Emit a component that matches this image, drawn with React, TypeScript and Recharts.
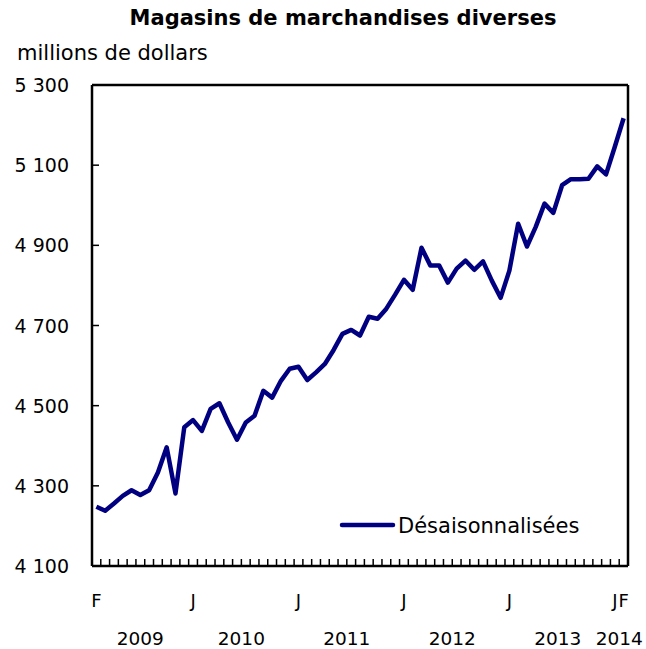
import { CartesianGrid, Legend, Line, LineChart, ReferenceLine, XAxis, YAxis } from "recharts";

const FONT = "'DejaVu Sans', Verdana, sans-serif";
const NAVY = "#000080";

// Feb 2009 .. Feb 2014, monthly, millions of dollars
const values = [
  4248, 4238, 4256, 4275, 4289, 4277, 4289, 4333, 4396, 4281, 4446,
  4464, 4437, 4492, 4506, 4458, 4415, 4458, 4475, 4537, 4520, 4562, 4592,
  4597, 4564, 4583, 4604, 4639, 4679, 4689, 4675, 4722, 4717, 4742, 4777,
  4814, 4789, 4894, 4850, 4850, 4807, 4842, 4862, 4839, 4860, 4812, 4769,
  4837, 4954, 4897, 4946, 5004, 4981, 5050, 5065, 5065, 5066, 5097, 5077,
  5146, 5217
];

const monthTicks = [0, 11, 23, 35, 47, 59, 60];
const monthLabels = ["F", "J", "J", "J", "J", "J", "F"];

const yearTicks = [5, 16.5, 28.5, 40.5, 52.5, 59.5];
const yearLabels = ["2009", "2010", "2011", "2012", "2013", "2014"];

const yTicks = [4100, 4300, 4500, 4700, 4900, 5100, 5300];
const yLabels = ["4 100", "4 300", "4 500", "4 700", "4 900", "5 100", "5 300"];

const data = values.map((v, i) => ({ idx: i, value: v }));
// small tick marks sit between months
const boundaries = values.slice(1).map((_, i) => i + 0.5);
const xTicks = [...boundaries, ...monthTicks].sort((a, b) => a - b);

function MonthTick({ x, y, payload }: any) {
  const v = payload.value;
  if (!Number.isInteger(v)) {
    return <line x1={x} x2={x} y1={y} y2={y - 7} stroke="#000" strokeWidth={1.5} />;
  }
  const label = monthLabels[monthTicks.indexOf(v)];
  return (
    <text x={x} y={y + 41} textAnchor="middle" fontFamily={FONT} fontSize={18} fill="#000">
      {label}
    </text>
  );
}

function YearTick({ x, y, payload }: any) {
  const label = yearLabels[yearTicks.indexOf(payload.value)];
  return (
    <text x={x} y={y + 49} textAnchor="middle" fontFamily={FONT} fontSize={18.5} fill="#000">
      {label}
    </text>
  );
}

function ValueTick({ x, y, payload }: any) {
  const label = yLabels[yTicks.indexOf(payload.value)];
  return (
    <g>
      <line x1={x} x2={x + 7} y1={y} y2={y} stroke="#000" strokeWidth={1.5} />
      <text x={x - 23} y={y + 7} textAnchor="end" fontFamily={FONT} fontSize={19} fill="#000">
        {label}
      </text>
    </g>
  );
}

function LegendContent() {
  return (
    <svg width={260} height={32}>
      <line x1={3} x2={54} y1={15} y2={15} stroke={NAVY} strokeWidth={4.5} strokeLinecap="round" />
      <text x={59} y={23} fontFamily={FONT} fontSize={21} fill="#000">
        Désaisonnalisées
      </text>
    </svg>
  );
}

export default function App() {
  return (
    <div style={{ position: "absolute", left: 0, top: 0, width: 646, height: 649, background: "#fff" }}>
      <LineChart width={646} height={649} data={data} margin={{ top: 85, right: 18, bottom: 0, left: 0 }}>
        <CartesianGrid stroke="none" />
        <XAxis
          dataKey="idx"
          type="number"
          domain={[-0.5, 60.5]}
          ticks={xTicks}
          interval={0}
          tick={<MonthTick />}
          tickLine={false}
          tickSize={0}
          tickMargin={0}
          height={30}
          axisLine={{ stroke: "#000", strokeWidth: 2.5 }}
        />
        <XAxis
          xAxisId="yr"
          dataKey="idx"
          type="number"
          domain={[-0.5, 60.5]}
          ticks={yearTicks}
          interval={0}
          tick={<YearTick />}
          tickLine={false}
          tickSize={0}
          tickMargin={0}
          height={53}
          axisLine={false}
        />
        <YAxis
          domain={[4100, 5300]}
          ticks={yTicks}
          interval={0}
          width={92}
          tick={<ValueTick />}
          tickLine={false}
          tickSize={0}
          tickMargin={0}
          axisLine={{ stroke: "#000", strokeWidth: 2.5 }}
        />
        <ReferenceLine y={5300} stroke="#000" strokeWidth={2.5} />
        <ReferenceLine x={60.5} stroke="#000" strokeWidth={2.5} />
        <Legend
          layout="horizontal"
          verticalAlign="middle"
          align="center"
          content={<LegendContent />}
          wrapperStyle={{ position: "absolute", left: 339, top: 510, width: 260, height: 32 }}
        />
        <Line
          type="linear"
          dataKey="value"
          stroke={NAVY}
          strokeWidth={4.5}
          dot={false}
          strokeLinejoin="round"
          isAnimationActive={false}
        />
      </LineChart>
      <svg width={646} height={70} style={{ position: "absolute", left: 0, top: 0, pointerEvents: "none" }}>
        <text x={343} y={25} textAnchor="middle" fontFamily={FONT} fontSize={21} fontWeight="bold" fill="#000">
          Magasins de marchandises diverses
        </text>
        <text x={17} y={60} fontFamily={FONT} fontSize={21} fill="#000">
          millions de dollars
        </text>
      </svg>
    </div>
  );
}
